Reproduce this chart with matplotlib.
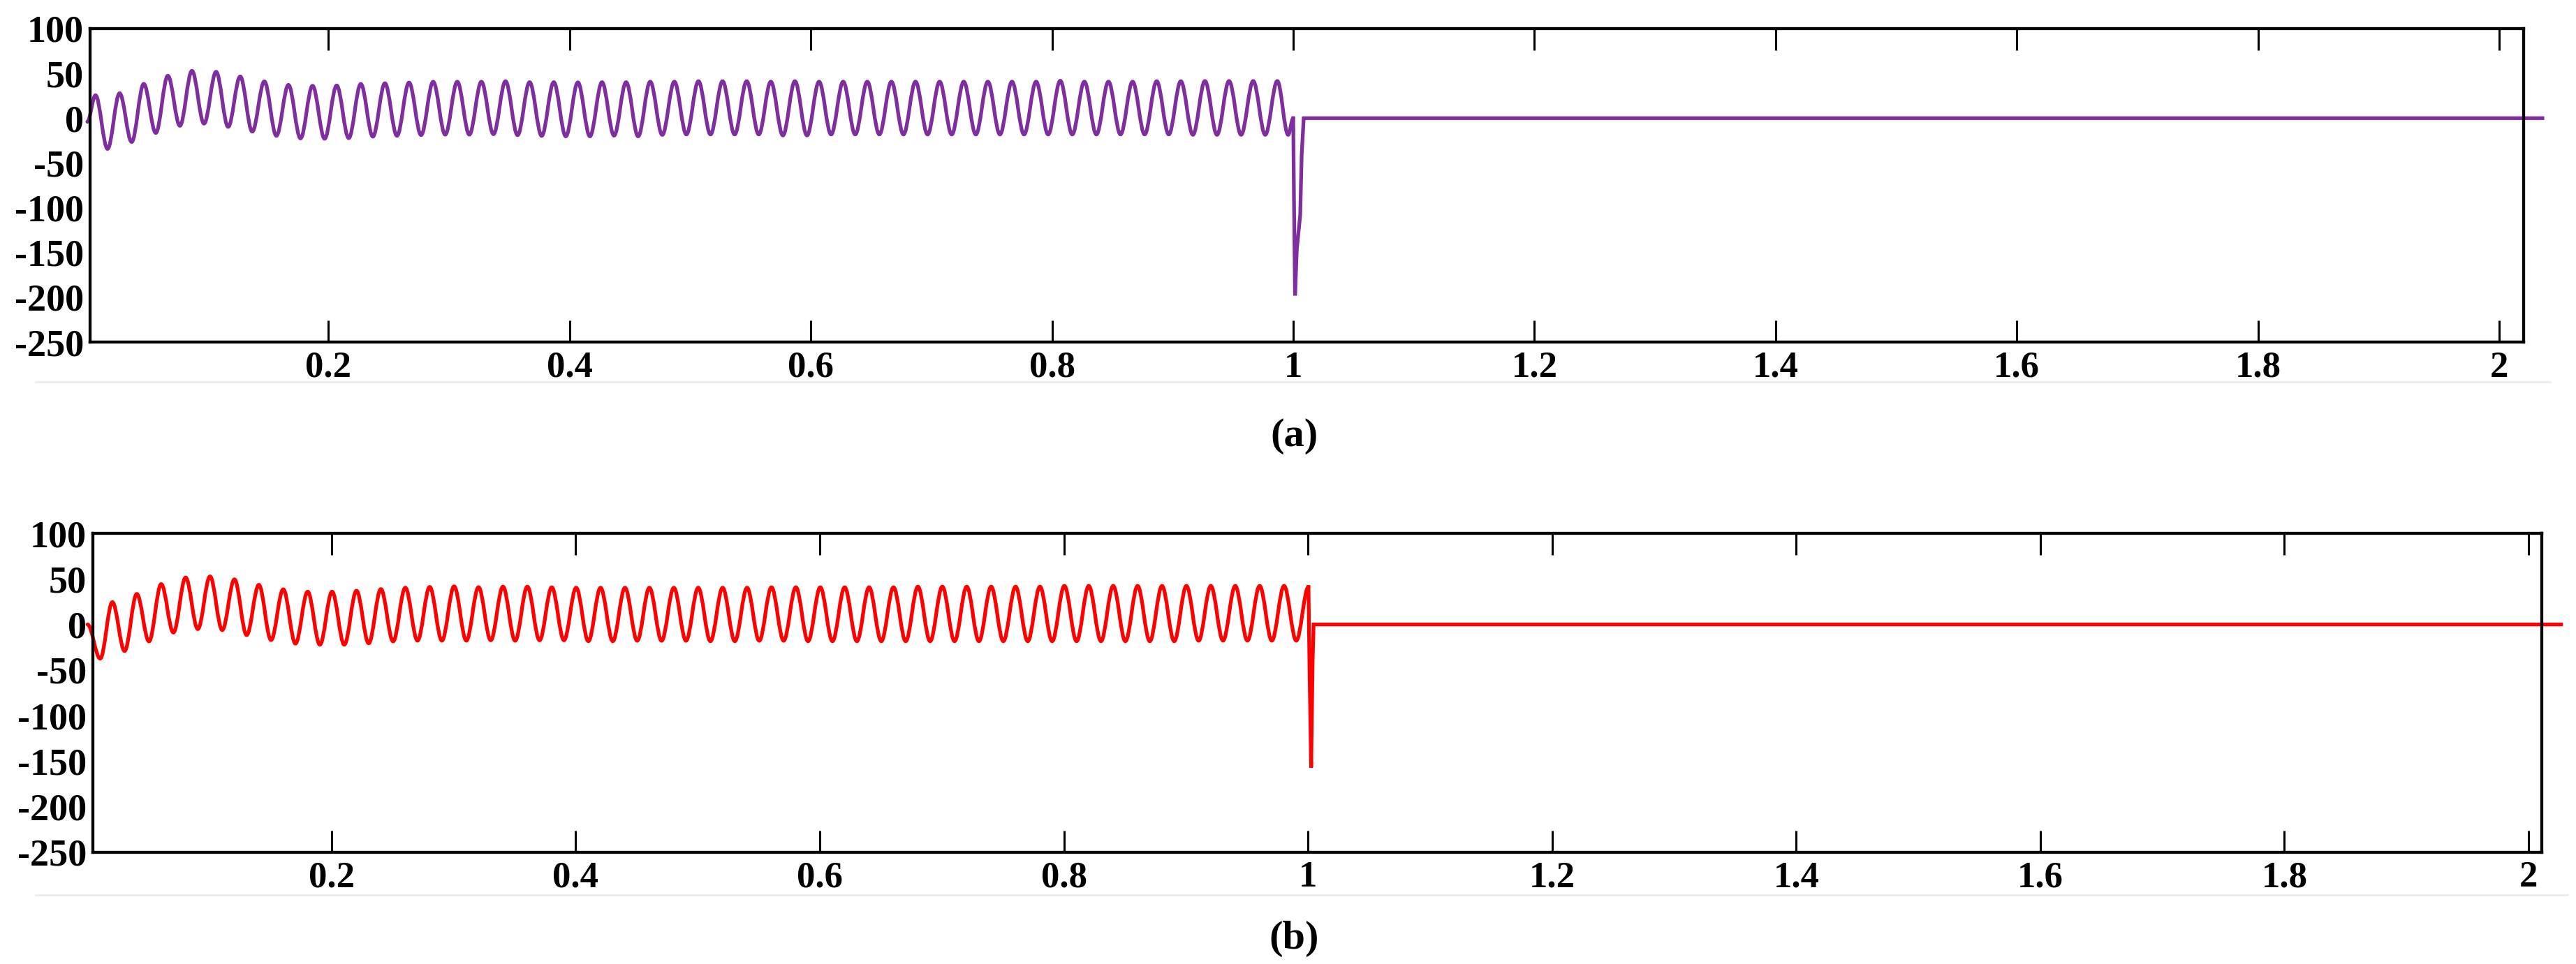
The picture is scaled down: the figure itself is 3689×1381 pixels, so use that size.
import matplotlib.pyplot as plt
from matplotlib.path import Path
from matplotlib.patches import PathPatch
from matplotlib.lines import Line2D
from matplotlib.ticker import FixedLocator

plt.rcParams["font.family"] = ["Liberation Serif", "DejaVu Serif"]
plt.rcParams["font.weight"] = "bold"

# axis ticks shared by both panels
y_ticks = [100, 50, 0, -50, -100, -150, -200, -250]
y_marks = [50, 0, -50, -100, -150]          # inward marks on the right spine
x_ticks = [0.2, 0.4, 0.6, 0.8, 1.0, 1.2, 1.4, 1.6, 1.8, 2.0]
x_labels = ["0.2", "0.4", "0.6", "0.8", "1", "1.2", "1.4", "1.6", "1.8", "2"]

# ---- panel (a): oscillation read as successive extrema ----
a_start_t, a_start_v = 0.0, -4
a_peak_t = [0.0068, 0.0268, 0.0468, 0.0668, 0.0868, 0.1068, 0.1268, 0.1468, 0.1668, 0.1868,
            0.2068, 0.2268, 0.2468, 0.2668, 0.2868, 0.3068, 0.3268, 0.3468, 0.3668, 0.3868,
            0.4068, 0.4268, 0.4468, 0.4668, 0.4868, 0.5068, 0.5268, 0.5468, 0.5668, 0.5868,
            0.6068, 0.6268, 0.6468, 0.6668, 0.6868, 0.7068, 0.7268, 0.7468, 0.7668, 0.7868,
            0.8068, 0.8268, 0.8468, 0.8668, 0.8868, 0.9068, 0.9268, 0.9468, 0.9668, 0.9868]
a_peak_v = [25.6, 27.8, 38.3, 47.4, 52.9, 51.8, 46.6, 41.1, 37.2, 36.2,
            36.5, 38.2, 39.0, 39.8, 40.7, 40.7, 40.7, 41.3, 40.2, 40.2,
            40.0, 40.2, 40.2, 40.8, 40.8, 41.3, 41.3, 41.3, 40.8, 41.3,
            40.8, 40.8, 40.8, 40.8, 40.8, 40.8, 40.8, 40.8, 40.8, 40.8,
            41.8, 40.8, 40.8, 40.8, 41.3, 41.3, 41.5, 41.5, 41.5, 41.5]
a_trough_t = [0.0168, 0.0368, 0.0568, 0.0768, 0.0968, 0.1168, 0.1368, 0.1568, 0.1768, 0.1968,
              0.2168, 0.2368, 0.2568, 0.2768, 0.2968, 0.3168, 0.3368, 0.3568, 0.3768, 0.3968,
              0.4168, 0.4368, 0.4568, 0.4768, 0.4968, 0.5168, 0.5368, 0.5568, 0.5768, 0.5968,
              0.6168, 0.6368, 0.6568, 0.6768, 0.6968, 0.7168, 0.7368, 0.7568, 0.7768, 0.7968,
              0.8168, 0.8368, 0.8568, 0.8768, 0.8968, 0.9168, 0.9368, 0.9568, 0.9768, 0.9958]
a_trough_v = [-34.3, -26.6, -16.5, -8.5, -6.1, -9.7, -15.0, -19.7, -22.6, -23.0,
              -22.3, -20.6, -19.7, -18.9, -18.4, -18.4, -17.9, -19.0, -19.8, -20.3,
              -20.3, -19.5, -20.3, -18.7, -18.2, -18.2, -18.2, -18.2, -19.3, -19.3,
              -18.2, -18.2, -18.2, -18.2, -18.2, -18.2, -18.2, -18.2, -18.2, -18.2,
              -18.2, -18.2, -18.2, -18.2, -18.2, -18.6, -18.6, -18.6, -18.6, -18.6]
a_end_t, a_end_v = 1.0000, 0.0
# fault transient and the flat tail after it
a_tail_t = [1.0006, 1.0015, 1.0030, 1.0058, 1.0070, 1.0087, 2.0359]
a_tail_v = [-88, -198, -146, -108, -41, 0, 0]

# ---- panel (b) ----
b_start_t, b_start_v = 0.0, 0.0
b_trough_t = [0.0104, 0.0304, 0.0504, 0.0704, 0.0904, 0.1104, 0.1304, 0.1504, 0.1704, 0.1904,
              0.2104, 0.2304, 0.2504, 0.2704, 0.2904, 0.3104, 0.3304, 0.3504, 0.3704, 0.3904,
              0.4104, 0.4304, 0.4504, 0.4704, 0.4904, 0.5104, 0.5304, 0.5504, 0.5704, 0.5904,
              0.6104, 0.6304, 0.6504, 0.6704, 0.6904, 0.7104, 0.7304, 0.7504, 0.7704, 0.7904,
              0.8104, 0.8304, 0.8504, 0.8704, 0.8904, 0.9104, 0.9304, 0.9504, 0.9704, 0.9904]
b_trough_v = [-37.5, -29.1, -18.6, -8.9, -5.1, -6.2, -11.7, -17.2, -21.0, -22.3,
              -22.3, -20.7, -18.6, -17.8, -17.8, -17.8, -17.4, -17.9, -17.4, -17.4,
              -18.4, -18.4, -17.9, -17.9, -17.9, -18.4, -18.4, -17.9, -17.9, -18.4,
              -18.4, -18.4, -18.4, -18.4, -18.4, -18.4, -18.4, -18.4, -18.4, -18.4,
              -18.4, -18.4, -18.4, -18.4, -18.4, -17.8, -17.8, -17.8, -17.8, -17.8]
b_peak_t = [0.0204, 0.0404, 0.0604, 0.0804, 0.1004, 0.1204, 0.1404, 0.1604, 0.1804, 0.2004,
            0.2204, 0.2404, 0.2604, 0.2804, 0.3004, 0.3204, 0.3404, 0.3604, 0.3804, 0.4004,
            0.4204, 0.4404, 0.4604, 0.4804, 0.5004, 0.5204, 0.5404, 0.5604, 0.5804, 0.6004,
            0.6204, 0.6404, 0.6604, 0.6804, 0.7004, 0.7204, 0.7404, 0.7604, 0.7804, 0.8004,
            0.8204, 0.8404, 0.8604, 0.8804, 0.9004, 0.9204, 0.9404, 0.9604, 0.9804, 1.0004]
b_peak_v = [24.5, 33.5, 44.3, 51.5, 52.7, 49.5, 43.5, 38.6, 36.0, 36.0,
            37.0, 38.8, 40.3, 41.2, 41.8, 40.9, 41.5, 41.5, 40.8, 40.3,
            40.3, 40.3, 40.3, 40.3, 40.3, 40.3, 40.3, 40.8, 40.8, 40.8,
            40.8, 40.8, 40.8, 41.5, 41.5, 41.5, 41.5, 41.5, 41.5, 42.3,
            42.3, 42.3, 42.3, 42.3, 42.3, 42.3, 42.3, 42.3, 42.3, 41.2]
b_tail_t = [1.0012, 1.0026, 1.0038, 1.0046, 2.0267]
b_tail_v = [-45, -157, -40, 0, 0]

PURPLE = "#7e2e9e"
RED = "#ff0000"
LW = 3.8


def smooth_wave(ax, ts, vs, color):
    # draw the extrema joined by cubic bezier segments with flat tangents
    verts = [(ts[0], vs[0])]
    codes = [Path.MOVETO]
    for i in range(1, len(ts)):
        c = 0.36 * (ts[i] - ts[i - 1])
        verts += [(ts[i - 1] + c, vs[i - 1]), (ts[i] - c, vs[i]), (ts[i], vs[i])]
        codes += [Path.CURVE4] * 3
    patch = PathPatch(Path(verts, codes), fill=False, edgecolor=color, lw=LW,
                      clip_on=False, joinstyle="round", capstyle="round")
    ax.add_patch(patch)


def setup_axes(ax, xlim):
    ax.set_xlim(*xlim)
    ax.set_ylim(-250, 100)
    ax.set_xticks(x_ticks, x_labels)
    ax.set_yticks(y_ticks, [str(v) for v in y_ticks])
    ax.yaxis.set_minor_locator(FixedLocator(y_marks))
    ax.tick_params(axis="x", which="major", direction="in", top=True, bottom=True,
                   length=22, width=2.2, labelsize=38, pad=9)
    ax.tick_params(axis="y", which="major", left=False, right=False, labelsize=39, pad=3)
    ax.tick_params(axis="y", which="minor", direction="in", left=False, right=True,
                   length=26, width=2.2)
    for s in ax.spines.values():
        s.set_linewidth(3.1)


fig = plt.figure(figsize=(36.89, 13.81), dpi=100)
W, H = 3689, 1381

# panel (a)
ax1 = fig.add_axes([129 / W, 1 - 490 / H, 3485 / W, 449 / H])
setup_axes(ax1, (0.0023, 2.0203))
ts = [a_start_t]
vs = [a_start_v]
for pt, pv, tt, tv in zip(a_peak_t, a_peak_v, a_trough_t, a_trough_v):
    ts += [pt, tt]
    vs += [pv, tv]
ts.append(a_end_t)
vs.append(a_end_v)
smooth_wave(ax1, ts, vs, PURPLE)
ax1.plot([a_end_t] + a_tail_t, [a_end_v] + a_tail_v, color=PURPLE, lw=LW,
         clip_on=False, solid_joinstyle="miter")

# panel (b)
ax2 = fig.add_axes([133 / W, 1 - 1221 / H, 3507 / W, 457 / H])
setup_axes(ax2, (0.0044, 2.0109))
ts = [b_start_t]
vs = [b_start_v]
for tt, tv, pt, pv in zip(b_trough_t, b_trough_v, b_peak_t, b_peak_v):
    ts += [tt, pt]
    vs += [tv, pv]
smooth_wave(ax2, ts, vs, RED)
ax2.plot([b_peak_t[-1]] + b_tail_t, [b_peak_v[-1]] + b_tail_v, color=RED, lw=LW,
         clip_on=False, solid_joinstyle="miter")

# faint separator lines under the tick labels
fig.add_artist(Line2D([51 / W, 3652 / W], [1 - 546.5 / H] * 2, color="#ebebeb", lw=2))
fig.add_artist(Line2D([51 / W, 3677 / W], [1 - 1282 / H] * 2, color="#ebebeb", lw=2))

fig.text(1854 / W, 1 - 625 / H, "(a)", ha="center", va="center", fontsize=42, fontweight="bold")
fig.text(1853 / W, 1 - 1345 / H, "(b)", ha="center", va="center", fontsize=42, fontweight="bold")

fig.savefig("out.png", dpi=100)
